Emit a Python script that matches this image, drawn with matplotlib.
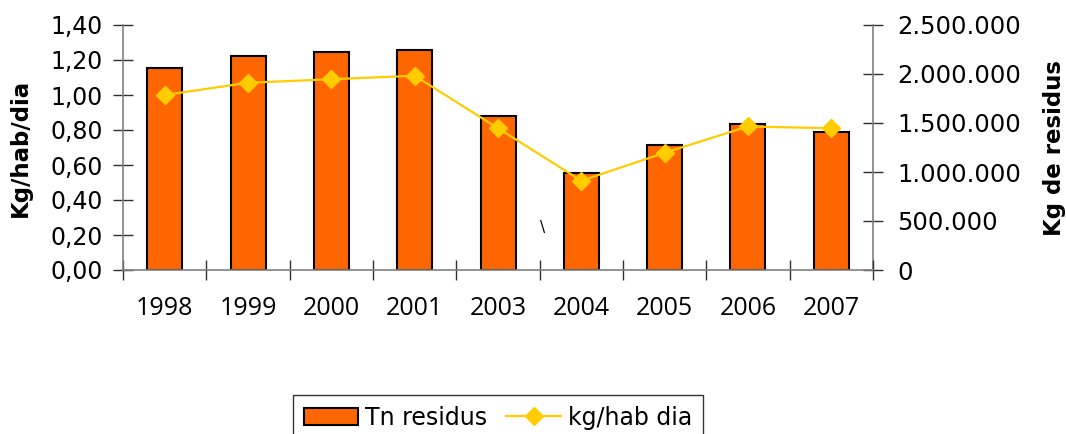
import matplotlib
matplotlib.use("Agg")
import matplotlib.pyplot as plt
from matplotlib.ticker import FuncFormatter, FixedLocator
from matplotlib.lines import Line2D
from matplotlib.patches import Patch
import numpy as np

years = ["1998", "1999", "2000", "2001", "2003", "2004", "2005", "2006", "2007"]
tn_residus = [2065000, 2184000, 2221000, 2242000, 1568000, 994000, 1272000, 1490000, 1408000]
kg_hab_dia = [1.00, 1.07, 1.09, 1.11, 0.81, 0.51, 0.67, 0.82, 0.81]

fig = plt.figure(figsize=(10.66, 4.34), dpi=100)
ax = fig.add_axes([123/1066, 1-270/434, 750/1066, 245/434])
ax2 = ax.twinx()

x = np.arange(len(years))
ax2.bar(x, tn_residus, width=0.42, color="#FF6600", edgecolor="black", linewidth=1.5, zorder=2)
ax.plot(x, kg_hab_dia, color="#FFCC00", linewidth=1.6, marker="D", markersize=9,
        markerfacecolor="#FFCC00", markeredgecolor="#FFCC00", zorder=5)
ax.set_zorder(ax2.get_zorder() + 1)
ax.patch.set_visible(False)

ax.set_xlim(-0.5, len(years) - 0.5)
ax.set_ylim(0, 1.4)
ax2.set_ylim(0, 2500000)
ax.set_yticks(np.arange(0, 1.41, 0.2))
ax2.set_yticks(np.arange(0, 2500001, 500000))
ax.yaxis.set_major_formatter(FuncFormatter(lambda v, p: f"{v:.2f}".replace(".", ",")))
ax2.yaxis.set_major_formatter(FuncFormatter(lambda v, p: f"{int(round(v)):,}".replace(",", ".")))

ax.set_xticks(x)
ax.set_xticklabels(years, fontsize=18, family=["Open Sans", "DejaVu Sans"])
ax.tick_params(axis="x", length=0, pad=19)
ax.xaxis.set_minor_locator(FixedLocator(np.arange(-0.5, len(years), 1.0)))
ax.tick_params(axis="x", which="minor", direction="inout", length=15, width=1, color="#303030")

for a in (ax, ax2):
    for s in a.spines.values():
        s.set_color("#808080")
        s.set_linewidth(1.2)
    a.spines["top"].set_visible(False)
ax2.spines["left"].set_visible(False)
ax2.spines["bottom"].set_visible(False)
ax.spines["right"].set_visible(False)

ax.tick_params(axis="y", direction="inout", length=15, width=1, color="#303030", labelsize=17, pad=7)
ax2.tick_params(axis="y", direction="inout", length=15, width=1, color="#303030", labelsize=17.5, pad=10)
for lbl in ax.get_yticklabels() + ax2.get_yticklabels():
    lbl.set_family("DejaVu Sans")

ax.set_ylabel("Kg/hab/dia", fontsize=16.5, fontweight="bold", labelpad=13.5)
ax2.set_ylabel("Kg de residus", fontsize=16.5, fontweight="bold", labelpad=16)

fig.text(543/1066, 1-228/434, "\\", fontsize=11, ha="center", va="center")

handles = [Patch(facecolor="#FF6600", edgecolor="black", linewidth=1.5),
           Line2D([], [], color="#FFCC00", linewidth=1.6, marker="D", markersize=9,
                  markerfacecolor="#FFCC00", markeredgecolor="#FFCC00")]
leg = fig.legend(handles, ["Tn residus", "kg/hab dia"], loc="upper center",
                 bbox_to_anchor=(498/1066, 1-395/434), borderaxespad=0, ncol=2, fontsize=17,
                 frameon=True, fancybox=False, edgecolor="black", handlelength=2.3,
                 columnspacing=0.8, handletextpad=0.3, borderpad=0.45)
leg.get_frame().set_linewidth(1.0)

fig.savefig("out.png", dpi=100)
